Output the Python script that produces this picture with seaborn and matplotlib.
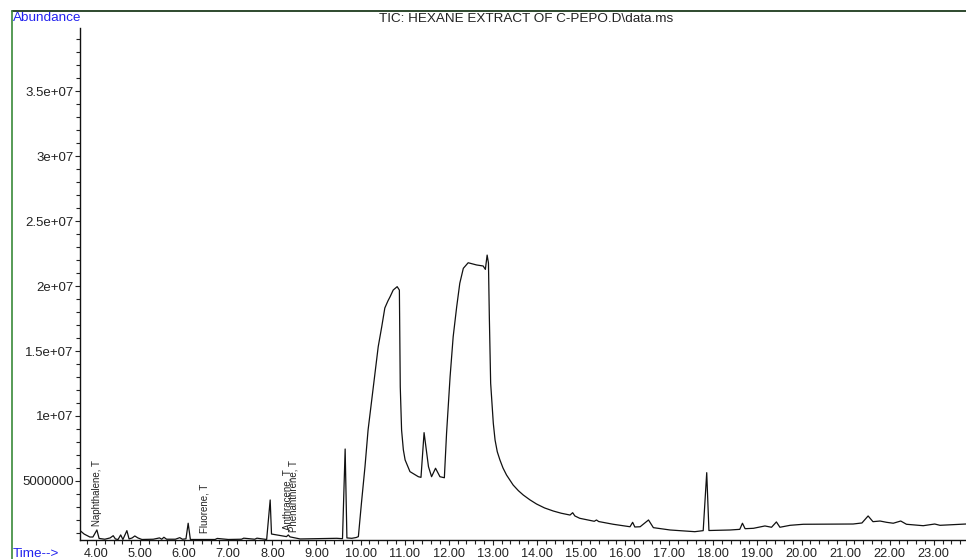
import numpy as np
import pandas as pd
import matplotlib.pyplot as plt
import matplotlib.ticker as mticker
from matplotlib.lines import Line2D
import seaborn as sns

# retention time (min) and abundance (millions of counts)
time_min = [3.64, 3.73, 3.86, 3.93, 4.02, 4.07, 4.20, 4.32, 4.39, 4.44, 4.50, 4.56, 4.61,
            4.70, 4.75, 4.82, 4.88, 4.95, 5.04, 5.30, 5.44, 5.49, 5.54, 5.60, 5.80, 5.90,
            5.96, 6.04, 6.09, 6.14, 6.40, 6.70, 6.75, 7.00, 7.30, 7.35, 7.60, 7.65, 7.87,
            7.95, 7.98, 8.10, 8.32, 8.36, 8.40, 8.63, 9.00, 9.46, 9.59, 9.65, 9.69, 9.80,
            9.90, 9.95, 10.02, 10.10, 10.17, 10.29, 10.40, 10.48, 10.55, 10.62, 10.67, 10.74,
            10.83, 10.88, 10.90, 10.93, 10.97, 11.01, 11.12, 11.31, 11.37, 11.44, 11.54, 11.61,
            11.70, 11.80, 11.90, 11.95, 12.03, 12.10, 12.18, 12.25, 12.33, 12.44, 12.63,
            12.78, 12.83, 12.87, 12.90, 12.92, 12.95, 13.01, 13.05, 13.10, 13.16, 13.23,
            13.31, 13.46, 13.58, 13.69, 13.84, 13.99, 14.17, 14.37, 14.55, 14.75, 14.81,
            14.86, 14.97, 15.30, 15.35, 15.40, 15.73, 16.11, 16.17, 16.22, 16.34, 16.53,
            16.64, 17.02, 17.58, 17.77, 17.85, 17.90, 18.38, 18.60, 18.66, 18.72, 18.91,
            19.17, 19.32, 19.43, 19.51, 19.74, 20.04, 21.17, 21.37, 21.51, 21.62, 21.78,
            21.93, 22.08, 22.25, 22.38, 22.76, 23.02, 23.14, 23.73]
abundance_m = [1.18, 0.92, 0.69, 0.69, 1.23, 0.58, 0.52, 0.62, 0.79, 0.54, 0.50, 0.85, 0.50,
               1.18, 0.54, 0.62, 0.77, 0.62, 0.50, 0.52, 0.62, 0.52, 0.67, 0.52, 0.52, 0.64,
               0.52, 0.55, 1.75, 0.50, 0.50, 0.50, 0.58, 0.50, 0.52, 0.60, 0.52, 0.60, 0.50,
               3.54, 0.92, 0.85, 0.72, 0.85, 0.70, 0.54, 0.56, 0.59, 0.56, 7.46, 0.62, 0.59,
               0.65, 0.72, 3.31, 6.10, 8.92, 12.25, 15.33, 16.87, 18.31, 18.85, 19.18, 19.69,
               19.95, 19.69, 12.25, 8.92, 7.40, 6.62, 5.72, 5.33, 5.28, 8.72, 6.10, 5.33,
               5.98, 5.33, 5.25, 8.67, 13.02, 16.10, 18.41, 20.21, 21.36, 21.79, 21.62,
               21.54, 21.28, 22.38, 21.77, 17.64, 12.52, 9.44, 8.15, 7.25, 6.62, 6.00,
               5.46, 4.69, 4.25, 3.92, 3.55, 3.23, 2.93, 2.69, 2.52, 2.38, 2.56,
               2.31, 2.13, 1.90, 2.00, 1.88, 1.67, 1.48, 1.82, 1.46, 1.48, 2.00,
               1.41, 1.23, 1.10, 1.18, 5.64, 1.19, 1.23, 1.28, 1.75, 1.33, 1.36,
               1.54, 1.44, 1.85, 1.44, 1.59, 1.67, 1.69, 1.77, 2.31, 1.87, 1.92,
               1.82, 1.75, 1.92, 1.67, 1.56, 1.69, 1.59, 1.69]

# library hits marked on the trace
compounds = ["Naphthalene, T", "Fluorene, T", "Anthracene, T", "Phenanthrene, T"]
compound_time = [4.03, 6.47, 8.35, 8.47]
compound_base_m = [1.55, 1.00, 1.23, 1.10]

title = "TIC: HEXANE EXTRACT OF C-PEPO.D\\data.ms"

df = pd.DataFrame({"time": time_min, "abundance": np.array(abundance_m) * 1e6})

sns.set_theme(style="white")
plt.rcParams["font.family"] = ["Liberation Sans", "DejaVu Sans"]

fig = plt.figure(figsize=(9.66, 5.59), dpi=100)
ax = fig.add_axes([80 / 966, 1 - 540 / 559, 1 - 80 / 966, (540 - 28) / 559])

sns.lineplot(data=df, x="time", y="abundance", ax=ax, color="#111111",
             linewidth=0.9, estimator=None, sort=False)

for name, t, b in zip(compounds, compound_time, compound_base_m):
    ax.text(t, b * 1e6, name, rotation=90, ha="center", va="bottom",
            fontsize=7, color="#222222")

ax.set_xlim(3.637, 23.73)
ax.set_ylim(0.46e6, 39.85e6)
ax.set_xlabel("")
ax.set_ylabel("")

ax.xaxis.set_major_locator(mticker.MultipleLocator(1.0))
ax.xaxis.set_minor_locator(mticker.MultipleLocator(0.2))
ax.xaxis.set_major_formatter(mticker.FormatStrFormatter("%.2f"))
ax.yaxis.set_major_locator(mticker.MultipleLocator(5e6))
ax.yaxis.set_minor_locator(mticker.MultipleLocator(1e6))


def abund_fmt(v, pos):
    if v < 9.9e6:
        return "%d" % round(v)
    mant, exp = ("%.1e" % v).split("e")
    mant = mant.rstrip("0").rstrip(".")
    return "%se+%02d" % (mant, int(exp))


ax.yaxis.set_major_formatter(mticker.FuncFormatter(abund_fmt))

ax.tick_params(axis="both", which="both", direction="out", colors="#222222",
               labelsize=9.2, width=0.8, bottom=True, left=True)
ax.tick_params(axis="both", which="major", length=3.5, pad=1)
ax.tick_params(axis="both", which="minor", length=3)
ax.tick_params(axis="y", labelsize=9.5)
ax.tick_params(axis="x", pad=2)

for side in ["top", "right"]:
    ax.spines[side].set_visible(False)
for side in ["left", "bottom"]:
    ax.spines[side].set_color("#111111")
    ax.spines[side].set_linewidth(1.0)

# outer frame of the instrument report
fig.add_artist(Line2D([12 / 966, 1], [1 - 11 / 559, 1 - 11 / 559], color="#0b2a0b", linewidth=1.2))
fig.add_artist(Line2D([12 / 966, 12 / 966], [0, 1 - 11 / 559], color="#3a8a3a", linewidth=1.2))

fig.text(526 / 966, 1 - 19 / 559, title, ha="center", va="center", fontsize=9.7, color="#222222")
fig.text(13 / 966, 1 - 18 / 559, "Abundance", ha="left", va="center", fontsize=9.7, color="#2222ee")
fig.text(13 / 966, 1 - 554 / 559, "Time-->", ha="left", va="center", fontsize=9.7, color="#2222ee")

fig.savefig("out.png", dpi=100)
